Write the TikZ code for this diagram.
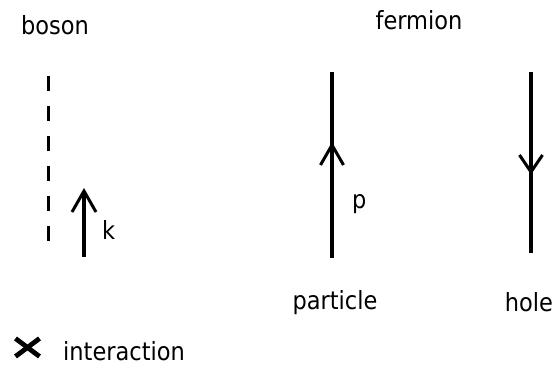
\documentclass[tikz,border=0pt]{standalone}
\usepackage{fontspec}
\setmainfont{DejaVu Sans Condensed}
\begin{document}
\begin{tikzpicture}[x=1pt,y=1pt,
  lbl/.style={inner sep=0pt, anchor=base, font=\fontsize{25}{30}\selectfont},
  lineseg/.style={line width=3.4pt, black},
  dashseg/.style={line width=3pt, black, dash pattern=on 15pt off 15pt},
  chev/.style={line width=3pt, line join=miter, black},
  cross/.style={line width=4.8pt, black}]
\useasboundingbox (0,0) rectangle (555,366);
% titles
\node[lbl] (boson) at (55,331) {boson};
\node[lbl] (fermion) at (419,336) {fermion};
% boson dashed line
\coordinate (bt) at (48,290);
\coordinate (bb) at (48,123);
\draw[dashseg] (bt) -- (bb);
% momentum arrow k
\coordinate (ks) at (84,109);
\coordinate (ke) at (84,175);
\coordinate (kl) at (72,154);
\coordinate (kr) at (96,154);
\draw[lineseg] (ks) -- (ke);
\draw[chev] (kl) -- (ke) -- (kr);
\node[lbl, anchor=base west] (k) at (102,126) {k};
% particle line
\coordinate (pt) at (332,294);
\coordinate (pb) at (332,108);
\coordinate (ptip) at (332,221);
\coordinate (pl) at (320.5,201);
\coordinate (pr) at (343.5,201);
\draw[lineseg] (pb) -- (pt);
\draw[chev] (pl) -- (ptip) -- (pr);
\node[lbl, anchor=base west] (p) at (352,157) {p};
\node[lbl] (particle) at (335,56) {particle};
% hole line
\coordinate (ht) at (531,294);
\coordinate (hb) at (531,113);
\coordinate (htip) at (531,194);
\coordinate (hl) at (519.5,211);
\coordinate (hr) at (542.5,211);
\draw[lineseg] (ht) -- (hb);
\draw[chev] (hl) -- (htip) -- (hr);
\node[lbl] (hole) at (529,54) {hole};
% interaction legend
\coordinate (x1) at (15.5,27.5);
\coordinate (x2) at (39.5,9.5);
\coordinate (x3) at (15.5,9.5);
\coordinate (x4) at (39.5,27.5);
\draw[cross] (x1) -- (x2);
\draw[cross] (x3) -- (x4);
\node[lbl, anchor=base west] (interaction) at (63,5) {interaction};
\end{tikzpicture}
\end{document}
